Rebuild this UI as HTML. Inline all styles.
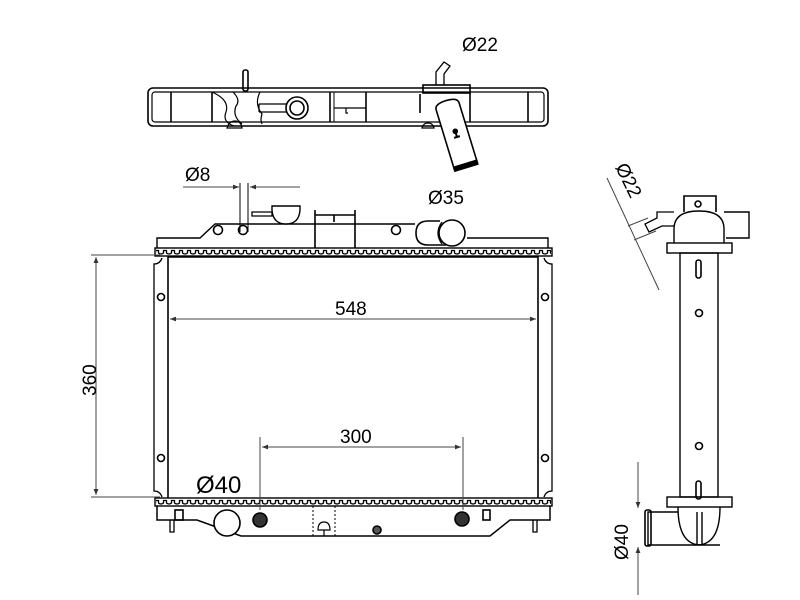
<!DOCTYPE html>
<html><head><meta charset="utf-8"><style>html,body{margin:0;padding:0;background:#fff}svg{display:block}</style></head>
<body>
<svg width="800" height="600" viewBox="0 0 800 600" xmlns="http://www.w3.org/2000/svg" font-family="Liberation Sans, sans-serif">
<defs>
<pattern id="teeth" x="157" y="248" width="8" height="8" patternUnits="userSpaceOnUse">
<path d="M0 2.5 h1.5 v2.5 q2.5 2 5 0 v-2.5 h1.5" fill="none" stroke="#000" stroke-width="1.3"/>
</pattern>
<pattern id="teeth2" x="157" y="498" width="8" height="8" patternUnits="userSpaceOnUse">
<path d="M0 2.5 h1.5 v2.5 q2.5 2 5 0 v-2.5 h1.5" fill="none" stroke="#000" stroke-width="1.3"/>
</pattern>
<marker id="ar" viewBox="0 0 10 10" refX="10" refY="5" markerWidth="8" markerHeight="6" orient="auto-start-reverse"><path d="M0 1 L10 5 L0 9z" fill="#333"/></marker>
</defs>
<g stroke="#000" fill="none" stroke-width="1.6">
<!-- top view tank -->
<rect x="148" y="88" width="400" height="38" rx="5"/>
<rect x="152" y="92" width="392" height="30" rx="3" stroke-width="1.2"/>
<line x1="171" y1="92" x2="171" y2="122"/><line x1="212" y1="92" x2="212" y2="122"/>
<line x1="330" y1="92" x2="330" y2="122"/><line x1="334" y1="92" x2="334" y2="122" stroke-width="1"/>
<line x1="366" y1="92" x2="366" y2="122"/>
<line x1="420" y1="94" x2="420" y2="113"/><line x1="470" y1="92" x2="470" y2="122"/>
<line x1="528" y1="92" x2="528" y2="122"/>
<line x1="334" y1="108" x2="366" y2="108" stroke-width="1.2"/>
<path d="M346 108 v5 h2" stroke-width="1.2"/>
<path d="M212 92 q18 8 14 20 q-4 10 8 14" stroke-width="1.2"/>
<path d="M233 92 q8 8 3 14 q-4 10 6 18" stroke-width="1.2"/>
<path d="M260 92 q-6 12 2 22 q-2 6 0 10" stroke-width="1.2"/>
<path d="M227 128 q2 -7 8 -7 q6 0 7 7z" stroke-width="1.2"/>
<rect x="243" y="70" width="5" height="21" rx="2"/>
<circle cx="297" cy="108" r="11"/><circle cx="297" cy="108" r="7"/>
<path d="M259 104 h28 M259 112 h28 M259 104 v8" stroke-width="1.2"/>
<rect x="423" y="85" width="47" height="8"/>
<path d="M436 85 v-13 l8 -10 l6 4 l-6 8 v11" stroke-width="1.3"/>
<path d="M422 128 q1 -5 6 -5 q5 0 6 5z" stroke-width="1.2"/>
<g transform="translate(457,137) rotate(-17)">
<path d="M-12 -32 q0 -6 12 -6 q12 0 12 6 v62 h-24z" fill="#fff"/>
<rect x="-12" y="28" width="24" height="4" fill="#000"/>
<path d="M0 -6 v6 M-3 0 h6" stroke-width="2"/><circle cx="0" cy="-6" r="2" fill="#000"/>
</g>
<!-- main radiator header -->
<path d="M157 248 v-10 h43 l15 -14 h200 M467 238 h81 v10" stroke-width="1.4"/>
<circle cx="218" cy="230" r="4.5" fill="#fff"/><circle cx="243" cy="230" r="4.5" fill="#fff"/><circle cx="396" cy="230" r="4.5" fill="#fff"/>
<line x1="240" y1="183" x2="240" y2="232" stroke-width="1"/><line x1="248" y1="183" x2="248" y2="232" stroke-width="1"/>
<path d="M252 212 h20 v4 h-20z" stroke-width="1.3"/>
<path d="M272 206 h28 v4 q-1 14 -14 14 q-13 0 -14 -14z" fill="#fff" stroke-width="1.4"/>
<path d="M315 248 v-38 M355 248 v-38 M315 215 h40 M334 215 v7" stroke-width="1.6"/>
<path d="M440 221 h-12 q-12 0 -12 12 q0 12 12 12 h18" fill="#fff"/>
<circle cx="452" cy="233" r="13" fill="#fff"/><path d="M442 222 q-8 11 0 22" stroke-width="1.3"/>
<rect x="155" y="248" width="397" height="8" stroke-width="1.4"/>
<rect x="156" y="249" width="395" height="7" fill="url(#teeth)" stroke="none"/>
<line x1="168" y1="257" x2="538" y2="257"/>
<line x1="168" y1="256" x2="168" y2="498"/><line x1="538" y1="256" x2="538" y2="498"/>
<path d="M162 258 q-2 6 -8 6 v227 q6 0 8 6" stroke-width="1.3"/>
<path d="M544 258 q2 6 8 6 v227 q-6 0 -8 6" stroke-width="1.3"/>
<circle cx="161" cy="297" r="3.5"/><circle cx="161" cy="458" r="3.5"/>
<circle cx="545" cy="297" r="3.5"/><circle cx="545" cy="458" r="3.5"/>
<rect x="155" y="498" width="397" height="8" stroke-width="1.4"/>
<rect x="156" y="499" width="395" height="7" fill="url(#teeth2)" stroke="none"/>
<!-- bottom tank -->
<path d="M157 506 v14 h40 l44 16 h249 l20 -16 h40 v-14" stroke-width="1.5"/>
<path d="M170 520 v12 h4 v-12 M533 520 v12 h4 v-12" stroke-width="1.3"/>
<rect x="175" y="510" width="8" height="10"/><rect x="483" y="510" width="7" height="10"/>
<circle cx="227" cy="523" r="13" fill="#fff"/>
<circle cx="260" cy="520" r="7" fill="#333"/><circle cx="462" cy="519" r="7" fill="#333"/>
<circle cx="377" cy="530" r="4" fill="#555"/>
<path d="M313 506 v30 M335 506 v30" stroke-dasharray="2 2" stroke-width="1"/>
<path d="M318 530 q0 -8 6 -8 q6 0 6 8z M324 530 v6" stroke-width="1.2"/>
<!-- dimension lines -->
<g stroke="#444" stroke-width="1">
<line x1="91" y1="255" x2="160" y2="255"/><line x1="91" y1="497" x2="160" y2="497"/>
<line x1="96" y1="257" x2="96" y2="495" marker-start="url(#ar)" marker-end="url(#ar)"/>
<line x1="170" y1="319" x2="536" y2="319" marker-start="url(#ar)" marker-end="url(#ar)"/>
<line x1="262" y1="447" x2="461" y2="447" marker-start="url(#ar)" marker-end="url(#ar)"/>
<line x1="260" y1="437" x2="260" y2="510"/><line x1="463" y1="437" x2="463" y2="510"/>
<line x1="183" y1="187" x2="239" y2="187" marker-end="url(#ar)"/>
<line x1="300" y1="187" x2="250" y2="187" marker-end="url(#ar)"/>
<line x1="638" y1="462" x2="638" y2="508" marker-end="url(#ar)"/>
<line x1="638" y1="595" x2="638" y2="547" marker-end="url(#ar)"/>
<line x1="607" y1="178" x2="659" y2="290"/>
<line x1="628" y1="226" x2="648" y2="218"/><line x1="634" y1="240" x2="656" y2="231"/>
</g>
<!-- side view -->
<rect x="680" y="253" width="38" height="244" stroke-width="1.4"/>
<rect x="667" y="243" width="65" height="10" stroke-width="1.4"/>
<rect x="667" y="497" width="65" height="10" stroke-width="1.4"/>
<path d="M674 243 v-14 q0 -18 25 -18 q25 0 25 18 v14" stroke-width="1.4"/>
<path d="M684 212 v-16 h32 v16"/><circle cx="698" cy="204" r="3"/>
<path d="M724 212 h25 v26 h-23" stroke-width="1.4"/>
<path d="M674 212 h-17 v6 l-12 6 l4 8 l13 -6 h12" stroke-width="1.3"/>
<rect x="696" y="260" width="5" height="18" rx="2.5"/><circle cx="699" cy="313" r="3.5"/>
<circle cx="699" cy="446" r="3.5"/><rect x="696" y="481" width="5" height="18" rx="2.5"/>
<path d="M678 507 q0 36 21 38 q21 -2 21 -38 M697 512 v33 M702 512 v33" stroke-width="1.4"/>
<path d="M678 512 h-30 v33 h72" stroke-width="1.4"/>
<rect x="645" y="510" width="6" height="36" rx="2"/>
</g>
<g fill="#000" font-size="19">
<text x="462" y="51">Ø22</text>
<text x="185" y="181">Ø8</text>
<text x="428" y="204">Ø35</text>
<text x="335" y="315">548</text>
<text x="340" y="443">300</text>
<text x="196" y="493" font-size="24">Ø40</text>
<text transform="translate(96,396) rotate(-90)">360</text>
<text transform="translate(615,167) rotate(64)">Ø22</text>
<text transform="translate(628,560) rotate(-90)">Ø40</text>
</g>
</svg>
</body></html>
